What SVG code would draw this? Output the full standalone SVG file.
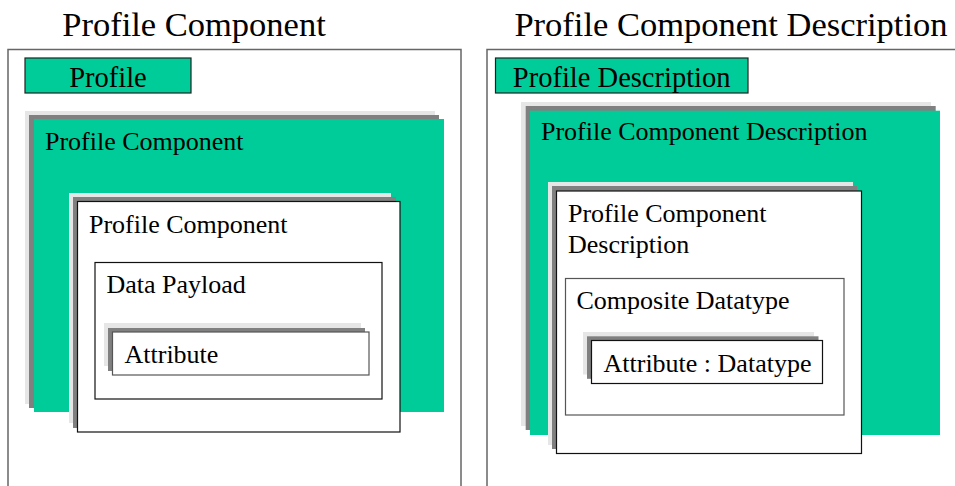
<svg xmlns="http://www.w3.org/2000/svg" width="955" height="486" viewBox="0 0 955 486">
<style>
text{font-family:"Liberation Serif","Times New Roman",serif;fill:#000}
.title{font-size:34.5px}
.tag{font-size:28.5px}
.lbl{font-size:26px}
.frame{fill:#fff;stroke:#666;stroke-width:1.5}
.sh1{fill:#e6e6e6}
.sh2{fill:#808080}
.green{fill:#00cc99}
.tagbox{fill:#00cc99;stroke:#222;stroke-width:1.2}
.wbox{fill:#fff;stroke:#111;stroke-width:1.2}
.gbox{fill:#fff;stroke:#555;stroke-width:1.2}
</style>
<rect width="955" height="486" fill="#fff"/>
<g id="left-panel">
<text class="title" x="194" y="36" text-anchor="middle">Profile Component</text>
<rect class="frame" x="8" y="49.5" width="453" height="445"/>
</g>
<g id="profile-tag">
<rect class="tagbox" x="25" y="58" width="166" height="35"/>
<text class="tag" x="108" y="86.7" text-anchor="middle">Profile</text>
</g>
<g id="profile-component-outer">
<rect class="sh1" x="25" y="111" width="410" height="293"/>
<rect class="sh2" x="29" y="115" width="410" height="293"/>
<rect class="green" x="34" y="119" width="410" height="293"/>
<text class="lbl" x="45" y="150">Profile Component</text>
</g>
<g id="profile-component-inner">
<rect class="sh1" x="69" y="193" width="322" height="230"/>
<rect class="sh2" x="73" y="197" width="323" height="231"/>
<rect class="wbox" x="77.5" y="201.5" width="322.5" height="230.5"/>
<text class="lbl" x="89" y="233">Profile Component</text>
</g>
<g id="data-payload">
<rect class="wbox" x="95" y="262.5" width="287" height="136.5"/>
<text class="lbl" x="106.5" y="293">Data Payload</text>
</g>
<g id="attribute">
<rect class="sh1" x="104" y="323" width="257" height="43"/>
<rect class="sh2" x="108" y="328" width="257" height="43"/>
<rect class="gbox" x="112.5" y="332" width="256.5" height="43"/>
<text class="lbl" x="124.5" y="362.7">Attribute</text>
</g>
<g id="right-panel">
<text class="title" x="731" y="36" text-anchor="middle">Profile Component Description</text>
<rect class="frame" x="487" y="49.5" width="480" height="445"/>
</g>
<g id="profile-description-tag">
<rect class="tagbox" x="495.5" y="58" width="252.5" height="35"/>
<text class="tag" x="621.7" y="86.7" text-anchor="middle">Profile Description</text>
</g>
<g id="pcd-outer">
<rect class="sh1" x="521" y="102" width="410" height="324"/>
<rect class="sh2" x="525.7" y="106" width="410" height="324"/>
<rect class="green" x="530" y="110.7" width="410" height="324.3"/>
<text class="lbl" x="541" y="140">Profile Component Description</text>
</g>
<g id="pcd-inner">
<rect class="sh1" x="548" y="182" width="305" height="263"/>
<rect class="sh2" x="552" y="186" width="305" height="263"/>
<rect class="wbox" x="556.5" y="191" width="305" height="262.5"/>
<text class="lbl" x="568" y="221.7">Profile Component</text>
<text class="lbl" x="568" y="253">Description</text>
</g>
<g id="composite-datatype">
<rect class="gbox" x="565.5" y="278.5" width="278.5" height="136.5"/>
<text class="lbl" x="576.5" y="309">Composite Datatype</text>
</g>
<g id="attribute-datatype">
<rect class="sh1" x="583" y="332" width="231" height="42.5"/>
<rect class="sh2" x="587" y="336.3" width="231.5" height="42.5"/>
<rect class="wbox" x="591.5" y="340.5" width="231" height="43"/>
<text class="lbl" x="603.5" y="371.7">Attribute : Datatype</text>
</g>
<g id="connectors"></g>
</svg>
